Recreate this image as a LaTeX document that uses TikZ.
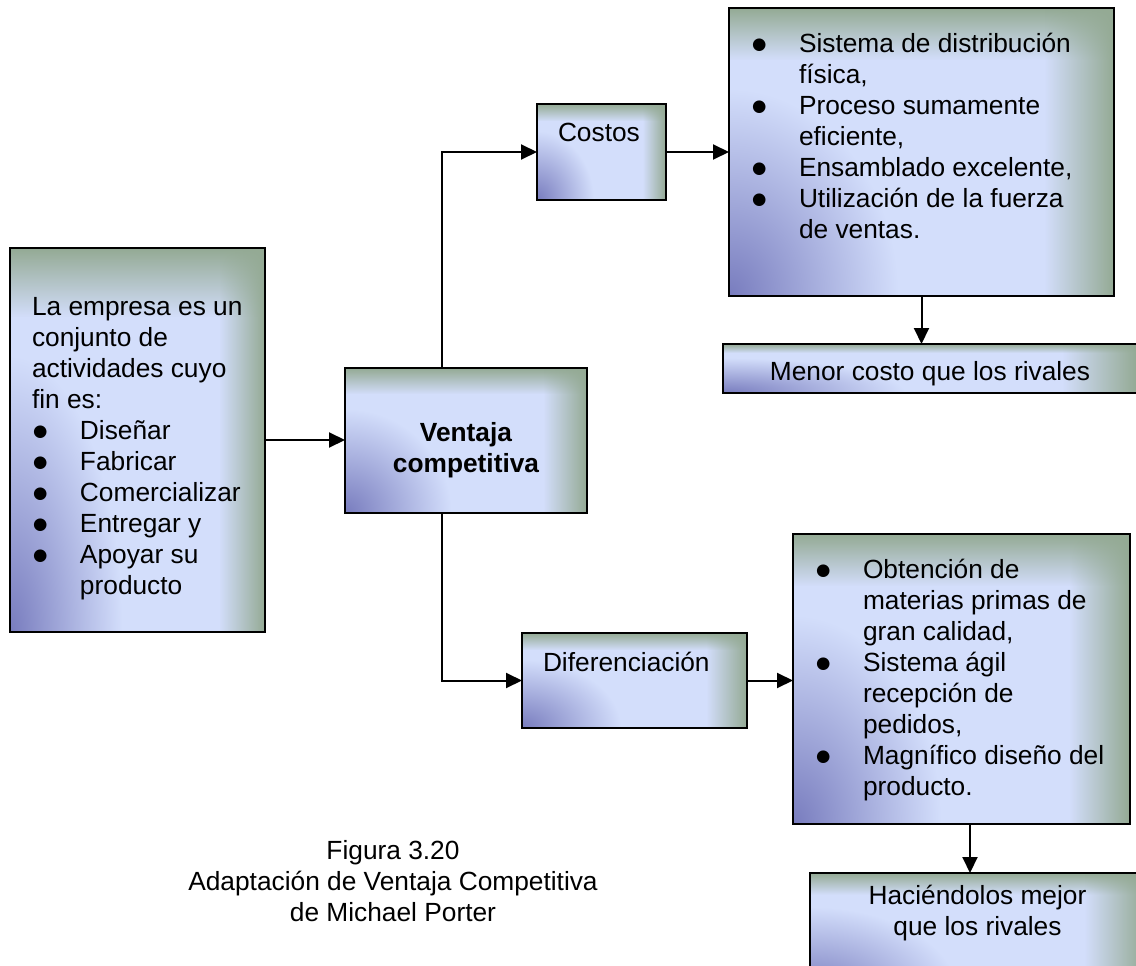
\documentclass[tikz,border=0pt]{standalone}
\usepackage{fontspec}
\setmainfont{Liberation Sans}
\newfontfamily\symfont{DejaVu Sans}
\usetikzlibrary{arrows.meta,fadings,calc}

\definecolor{basecol}{RGB}{211,222,251}
\definecolor{edgecol}{RGB}{148,170,148}
\definecolor{cornercol}{RGB}{120,124,190}

% fadings for the soft green edges of the panels
\tikzfading[name=fadetoleft, left color=transparent!100, right color=transparent!0]
\tikzfading[name=fadetobottom, top color=transparent!0, bottom color=transparent!100]

% text of a panel: width, height, content (top aligned)
\newcommand\pbox[3]{\parbox[c][#2][t]{#1}{\parskip=0pt\parindent=0pt%
  \fontsize{26.3pt}{31pt}\selectfont\rightskip=0pt plus 1fil\relax #3}}
\newcommand\bul{\raisebox{2.6pt}{\symfont\fontsize{16.5pt}{16.5pt}\selectfont ●}}
% bullet item: text indent, gap from bullet to text, text
\newcommand\bitem[3]{{\leftskip=#1\relax\noindent\hspace*{-#2}\makebox[#2][l]{\bul}#3\par}}
\newcommand\plain[2]{{\leftskip=#1\relax\noindent #2\par}}

\tikzset{
  panel/.style={draw=black, line width=2.3pt, inner sep=0pt, outer sep=0pt, anchor=north west,
    path picture={
      \fill[basecol] (path picture bounding box.south west) rectangle (path picture bounding box.north east);
      \shade[inner color=cornercol, outer color=basecol]
        let \p1=(path picture bounding box.south west), \p2=(path picture bounding box.north east),
            \n1={0.44*(\x2-\x1)}, \n2={0.72*(\y2-\y1)} in
        (\x1-\n1,\y1-\n2) rectangle (\x1+\n1,\y1+\n2);
      \fill[edgecol, path fading=fadetobottom]
        ($(path picture bounding box.north west)!0.18!(path picture bounding box.south west)$)
        rectangle (path picture bounding box.north east);
      \fill[edgecol, path fading=fadetoleft]
        ($(path picture bounding box.north east)!0.18!(path picture bounding box.north west)$)
        rectangle (path picture bounding box.south east);
    }},
  conn/.style={line width=2pt, -{Triangle[length=16pt,width=15pt]}},
}

\begin{document}
\begin{tikzpicture}[x=1pt,y=-1pt]
\fill[white] (0,0) rectangle (1136,966);
\useasboundingbox (0,0) rectangle (1136,966);
\clip (0,0) rectangle (1136,966);

% activities of the firm
\node[panel] (lb) at (10,248) {\pbox{255pt}{384pt}{%
  \plain{22pt}{\rule{0pt}{67pt}La empresa es un\\conjunto de\\actividades cuyo\\fin es:}%
  \bitem{70pt}{47pt}{Diseñar}%
  \bitem{70pt}{47pt}{Fabricar}%
  \bitem{70pt}{47pt}{Comercializar}%
  \bitem{70pt}{47pt}{Entregar y}%
  \bitem{70pt}{47pt}{Apoyar su\\producto}}};

% competitive advantage
\node[panel] (vc) at (345,368) {\pbox{242pt}{145pt}{\centering\bfseries
  \rule{0pt}{73pt}Ventaja\\competitiva\par}};

% cost branch
\node[panel] (cs) at (537,104) {\pbox{129pt}{96pt}{%
  \plain{21pt}{\rule{0pt}{37pt}Costos}}};
\node[panel] (tr) at (729,8) {\pbox{385pt}{288pt}{%
  \bitem{70pt}{47pt}{\rule{0pt}{44pt}Sistema de distribución\\física,}%
  \bitem{70pt}{47pt}{Proceso sumamente\\eficiente,}%
  \bitem{70pt}{47pt}{Ensamblado excelente,}%
  \bitem{70pt}{47pt}{Utilización de la fuerza\\de ventas.}}};
\node[panel] (mn) at (723,344) {\pbox{414pt}{49pt}{\centering
  \rule{0pt}{36pt}Menor costo que los rivales\par}};

% differentiation branch
\node[panel] (df) at (522,633) {\pbox{225pt}{95pt}{%
  \plain{21pt}{\rule{0pt}{38pt}Diferenciación}}};
\node[panel] (ls) at (793,534) {\pbox{337pt}{290pt}{%
  \bitem{70pt}{47pt}{\rule{0pt}{44pt}Obtención de\\materias primas de\\gran calidad,}%
  \bitem{70pt}{47pt}{Sistema ágil\\recepción de\\pedidos,}%
  \bitem{70pt}{47pt}{Magnífico diseño del\\producto.}}};
\node[panel] (hc) at (810,873) {\pbox{335pt}{120pt}{\centering
  \rule{0pt}{31pt}Haciéndolos mejor\\que los rivales\par}};

% caption
\node[anchor=north, inner sep=0pt] (cap) at (393,839) {\parbox{520pt}{\centering
  \fontsize{26.3pt}{31.3pt}\selectfont\rule{0pt}{20pt}Figura 3.20\\Adaptación de Ventaja Competitiva\\de Michael Porter}};

% connectors
\draw[conn] (lb.east) -- (lb.east -| vc.west);
\draw[conn] ([xshift=-24pt]vc.north) |- (cs.west);
\draw[conn] ([xshift=-24pt]vc.south) |- (df.west);
\draw[conn] (cs.east) -- (cs.east -| tr.west);
\draw[conn] (df.east) -- (df.east -| ls.west);
\draw[conn] (tr.south) -- (tr.south |- mn.north);
\draw[conn] ([xshift=8.5pt]ls.south) -- ([xshift=8.5pt]ls.south |- hc.north);
\end{tikzpicture}
\end{document}
